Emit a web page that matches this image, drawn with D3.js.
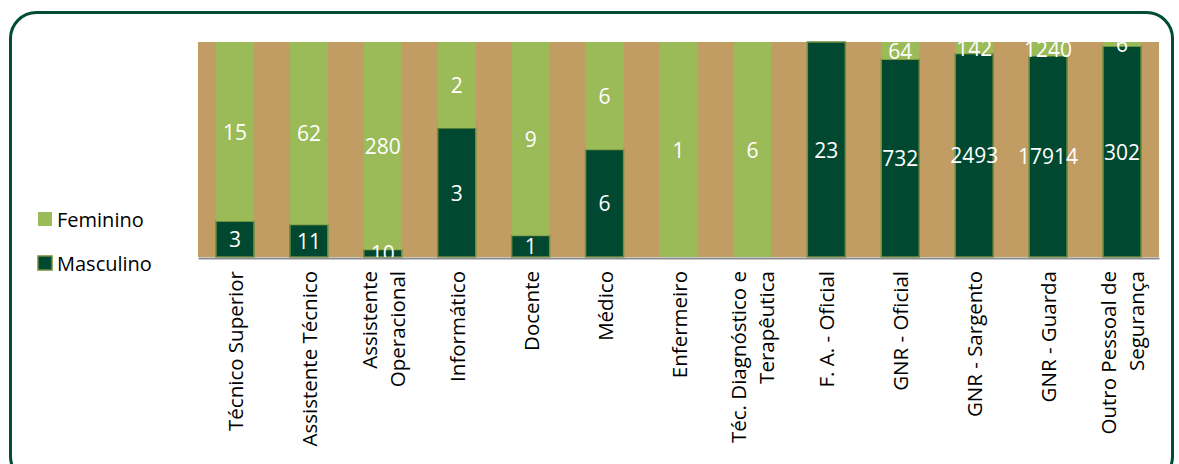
<!DOCTYPE html>
<html><head><meta charset="utf-8">
<script src="https://cdn.jsdelivr.net/npm/d3@7"></script>
<style>
html,body{margin:0;padding:0;background:#fff;}
svg{display:block;font-family:"Open Sans",sans-serif;}
</style></head>
<body>
<svg id="chart" width="1179" height="464"></svg>
<script>
const categories = [
  ["Técnico Superior"],
  ["Assistente Técnico"],
  ["Assistente", "Operacional"],
  ["Informático"],
  ["Docente"],
  ["Médico"],
  ["Enfermeiro"],
  ["Téc. Diagnóstico e", "Terapêutica"],
  ["F. A. - Oficial"],
  ["GNR - Oficial"],
  ["GNR - Sargento"],
  ["GNR - Guarda"],
  ["Outro Pessoal de", "Segurança"]
];
const masculino = [3, 11, 10, 3, 1, 6, 0, 0, 23, 732, 2493, 17914, 302];
const feminino  = [15, 62, 280, 2, 9, 6, 1, 6, 0, 64, 142, 1240, 6];
const seriesNames = ["Masculino", "Feminino"];
const colors = {Masculino: "#004830", Feminino: "#9BBB59"};

const svg = d3.select("#chart");

// outer frame
svg.append("rect").attr("x", 10.5).attr("y", 12.5).attr("width", 1162).attr("height", 470)
  .attr("rx", 26).attr("ry", 26).attr("fill", "none").attr("stroke", "#004D33").attr("stroke-width", 3);

const plot = {left: 198, top: 42, right: 1159, bottom: 257};

const rows = categories.map((c, i) => ({key: i, Masculino: masculino[i], Feminino: feminino[i]}));
const stack = d3.stack().keys(seriesNames).offset(d3.stackOffsetExpand);
const stacked = stack(rows);

const x = d3.scaleBand().domain(d3.range(categories.length)).range([plot.left, plot.right]).paddingInner(0.486).paddingOuter(0.243);
const y = d3.scaleLinear().domain([0, 1]).range([plot.bottom, plot.top]);

svg.append("rect").attr("x", plot.left).attr("y", plot.top)
  .attr("width", plot.right - plot.left).attr("height", plot.bottom - plot.top)
  .attr("fill", "#C19C63");

svg.append("defs").append("clipPath").attr("id", "pc").append("rect")
  .attr("x", plot.left).attr("y", plot.top)
  .attr("width", plot.right - plot.left).attr("height", plot.bottom - plot.top);

const g = svg.append("g");
stacked.forEach(s => {
  g.selectAll(null).data(s.filter(d => (d[1] - d[0]) > 0)).join("rect")
    .attr("x", d => x(d.data.key))
    .attr("y", d => y(d[1]))
    .attr("width", x.bandwidth())
    .attr("height", d => y(d[0]) - y(d[1]))
    .attr("fill", colors[s.key])
    .attr("stroke", s.key === "Masculino" ? "#6E8F3C" : "none")
    .attr("stroke-width", 1.5);
});

// axis
const axis = d3.axisBottom(x).tickSize(0).tickFormat("");
svg.append("g").attr("transform", `translate(0,${plot.bottom + 1})`).call(axis)
  .call(g => g.select(".domain").attr("stroke", "#8C8C8C").attr("stroke-width", 2));

// data labels
const lg = svg.append("g").attr("clip-path", "url(#pc)");
stacked.forEach(s => {
  lg.selectAll(null).data(s.filter(d => d.data[s.key] > 0)).join("text")
    .attr("x", d => x(d.data.key) + x.bandwidth() / 2)
    .attr("y", d => (y(d[0]) + y(d[1])) / 2)
    .attr("text-anchor", "middle")
    .attr("dominant-baseline", "central")
    .attr("fill", "#fff")
    .attr("font-size", 21)
    .text(d => d.data[s.key]);
});

// category labels
categories.forEach((lines, i) => {
  const cx = x(i) + x.bandwidth() / 2;
  const t = svg.append("text")
    .attr("transform", `translate(${cx},271) rotate(-90)`)
    .attr("text-anchor", "end")
    .attr("font-size", 20.5)
    .attr("fill", "#000");
  const n = lines.length;
  lines.forEach((ln, j) => {
    t.append("tspan").attr("x", 0).attr("y", (j - (n - 1) / 2) * 28)
      .attr("dominant-baseline", "central").text(ln);
  });
});

// legend
const legendItems = [{name: "Feminino", y: 219}, {name: "Masculino", y: 263}];
legendItems.forEach(it => {
  svg.append("rect").attr("x", 38).attr("y", it.y - 7).attr("width", 14).attr("height", 14)
    .attr("fill", colors[it.name])
    .attr("stroke", it.name === "Masculino" ? "#6E8F3C" : "none").attr("stroke-width", 1.5);
  svg.append("text").attr("x", 57).attr("y", it.y).attr("dominant-baseline", "central")
    .attr("font-size", 20).attr("fill", "#000").text(it.name);
});
</script>
</body></html>
